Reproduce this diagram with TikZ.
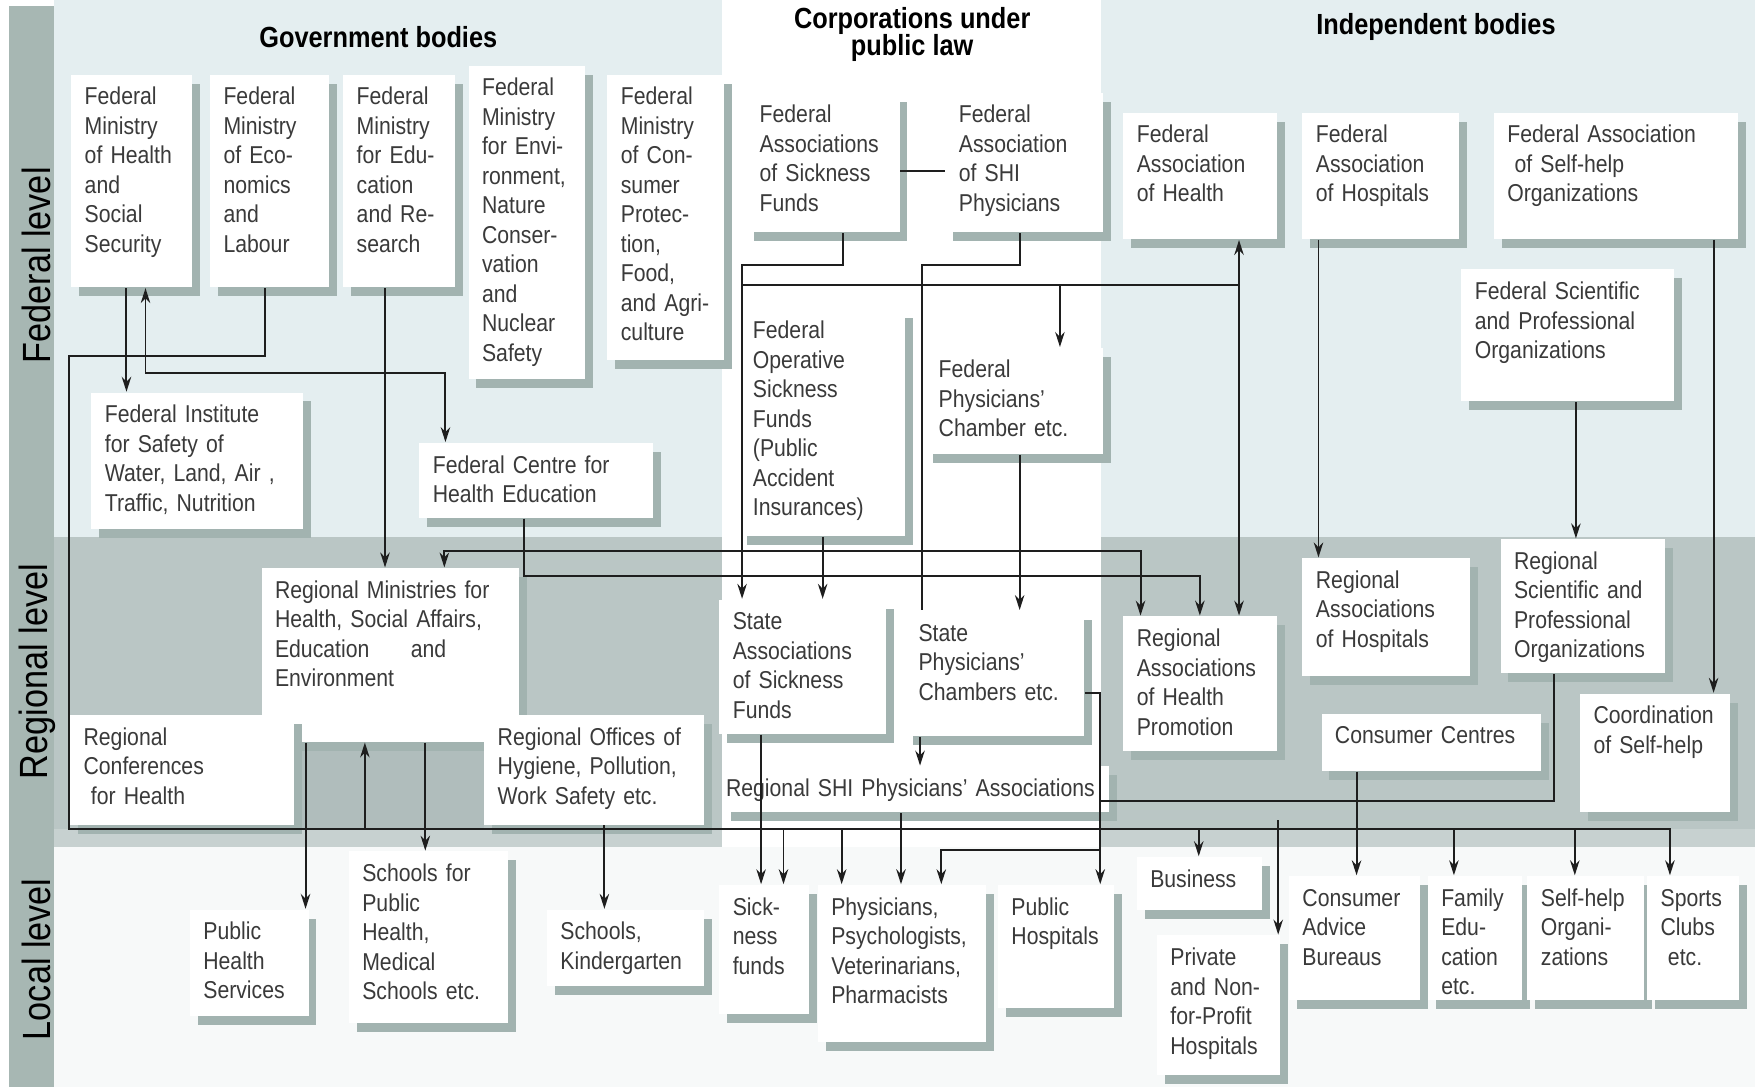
\documentclass[tikz,border=0pt]{standalone}
\usepackage{fontspec}
\setmainfont{Liberation Sans}[FakeStretch=0.87]
\usepackage{tikz}
\usetikzlibrary{shadows,arrows.meta}
\definecolor{txt}{HTML}{3A3A3A}
\definecolor{lnc}{HTML}{1E1E1E}
\definecolor{shd}{HTML}{A2B3B0}
\definecolor{fedbg}{HTML}{E4EEF0}
\definecolor{regbg}{HTML}{BAC6C5}
\definecolor{regdk}{HTML}{B0BDBC}
\definecolor{regst}{HTML}{C7D1D0}
\definecolor{locbg}{HTML}{F7F9F9}
\definecolor{strip}{HTML}{A7B7B3}
\hyphenpenalty=10000
\exhyphenpenalty=10000
\tikzstyle{orgbox}=[fill=white, anchor=north west, align=left, inner xsep=0.12cm, inner ysep=0.1cm, text height=0.17cm, text=txt, font=\fontsize{6.2}{7.5}\selectfont, drop shadow={shadow xshift=0.07cm, shadow yshift=-0.08cm, fill=shd, opacity=1}]
\tikzset{bx/.style 2 args={orgbox, text width=#1cm, text depth=#2cm}}
\tikzstyle{ln}=[draw=lnc, line width=0.5pt]
\tikzstyle{ar}=[->, >={Stealth[length=3.8pt,width=2.4pt]}, draw=lnc, line width=0.5pt]
\tikzstyle{ar2}=[<->, >={Stealth[length=3.8pt,width=2.4pt]}, draw=lnc, line width=0.5pt]
\tikzstyle{hd}=[font=\fontsize{7.4}{8.8}\selectfont\bfseries, text=black, align=center, inner sep=0pt]
\tikzstyle{lv}=[font=\fontsize{10}{12}\selectfont, text=black, rotate=90, inner sep=0pt]

\begin{document}
\begin{tikzpicture}[x=0.1mm, y=-0.1mm]
        \useasboundingbox (0,0) rectangle (1568,971);
        % level bands
        \fill[white] (0,0) rectangle (1568,971);
        \fill[fedbg] (48,0) rectangle (1568,480);
        \fill[regbg] (48,480) rectangle (1568,741);
        \fill[regst] (48,741) rectangle (1568,757);
        \fill[locbg] (48,757) rectangle (1568,971);
        \fill[white] (645,0) rectangle (984,757);
        \fill[regdk] (262,662) rectangle (432,741);
        \fill[strip] (8,5) rectangle (48,971);

        \node[lv] (lfed) at (33,237) {Federal level};
        \node[lv] (lreg) at (33,600) {Regional level};
        \node[lv] (lloc) at (33,857) {Local level};

        \node[hd] (hgov) at (338,33) {Government bodies};
        \node[hd] (hcorp) at (815,31) {Corporations under\\[-2pt]public law};
        \node[hd] (hind) at (1283,24) {Independent bodies};

        % federal level
        \node[bx={.84}{1.53}] (fmh) at (63,66) {Federal\\Ministry\\of Health\\and\\Social\\Security};
        \node[bx={.82}{1.53}] (fme) at (187,66) {Federal\\Ministry\\of Eco-\\nomics\\and\\Labour};
        \node[bx={.76}{1.53}] (fmr) at (306,66) {Federal\\Ministry\\for Edu-\\cation\\and Re-\\search};
        \node[bx={.80}{2.43}] (fmn) at (418,58) {Federal\\Ministry\\for Envi-\\ronment,\\Nature\\Conser-\\vation\\and\\Nuclear\\Safety};
        \node[bx={.80}{2.18}] (fmc) at (542,66) {Federal\\Ministry\\of Con-\\sumer\\Protec-\\tion,\\Food,\\and Agri-\\culture};
        \node[bx={1.13}{.88}] (fas) at (666,82) {Federal\\Associations\\of Sickness\\Funds};
        \node[bx={1.17}{.88}] (fashi) at (844,82) {Federal\\Association\\of SHI\\Physicians};
        \node[bx={1.24}{1.66}] (fosf) at (660,275) {Federal\\Operative\\Sickness\\Funds\\(Public\\Accident\\Insurances)};
        \node[bx={1.35}{.58}] (fpc) at (826,310) {Federal\\Physicians'\\Chamber etc.};
        \node[bx={1.13}{.76}] (fah) at (1003,100) {Federal\\Association\\of Health};
        \node[bx={1.16}{.76}] (fahosp) at (1163,100) {Federal\\Association\\of Hospitals};
        \node[bx={1.94}{.76}] (fash) at (1334,100) {Federal Association\\\hspace*{0.3em}of Self-help\\Organizations};
        \node[bx={1.66}{.81}] (fspo) at (1305,240) {Federal Scientific\\and Professional\\Organizations};
        \node[bx={1.65}{.85}] (fis) at (81,350) {Federal Institute\\for Safety of\\Water, Land, Air ,\\Traffic, Nutrition};
        \node[bx={1.85}{.30}] (fche) at (374,395) {Federal Centre for\\Health Education};

        % regional level
        \node[bx={2.06}{1.18}] (rm) at (233,507) {Regional Ministries for\\Health, Social Affairs,\\Education\hspace{1.7em}and\\Environment};
        \node[bx={1.76}{.61}] (rcf) at (62,638) {Regional\\Conferences\\\hspace*{0.3em}for Health};
        \node[bx={1.72}{.61}] (rof) at (432,638) {Regional Offices of\\Hygiene, Pollution,\\Work Safety etc.};
        \node[bx={1.25}{.83}] (sasf) at (642,535) {State\\Associations\\of Sickness\\Funds};
        \node[bx={1.36}{.75}] (spcb) at (808,545) {State\\Physicians'\\Chambers etc.};
        \node[bx={3.39}{.04}, inner xsep=0.03cm] (rship) at (645,684) {Regional SHI Physicians' Associations};
        \node[bx={1.13}{.83}] (rahp) at (1003,550) {Regional\\Associations\\of Health\\Promotion};
        \node[bx={1.26}{.68}] (rah) at (1163,498) {Regional\\Associations\\of Hospitals};
        \node[bx={1.23}{.83}] (rspo) at (1340,481) {Regional\\Scientific and\\Professional\\Organizations};
        \node[bx={1.72}{.14}] (cc) at (1180,637) {Consumer Centres};
        \node[bx={1.10}{.69}] (cosh) at (1411,619) {Coordination\\of Self-help};

        % local level
        \node[bx={.82}{.58}] (phs) at (169,812) {Public\\Health\\Services};
        \node[bx={1.18}{1.16}] (sph) at (311,760) {Schools for\\Public\\Health,\\Medical\\Schools etc.};
        \node[bx={1.16}{.31}] (sk) at (488,812) {Schools,\\Kindergarten};
        \node[bx={.56}{.78}] (sf) at (642,790) {Sick-\\ness\\funds};
        \node[bx={1.26}{1.03}] (phy) at (730,790) {Physicians,\\Psychologists,\\Veterinarians,\\Pharmacists};
        \node[bx={.80}{.73}] (ph) at (891,790) {Public\\Hospitals};
        \node[bx={.88}{.10}] (busi) at (1015,765) {Business};
        \node[bx={.86}{.88}] (pnh) at (1033,835) {Private\\and Non-\\for-Profit\\Hospitals};
        \node[bx={.93}{.74}] (cab) at (1151,782) {Consumer\\Advice\\Bureaus};
        \node[bx={.60}{.74}] (fe) at (1275,782) {Family\\Edu-\\cation\\etc.};
        \node[bx={.80}{.74}] (sho) at (1364,782) {Self-help\\Organi-\\zations};
        \node[bx={.58}{.74}] (scl) at (1471,782) {Sports\\Clubs\\\hspace*{0.3em}etc.};

        \coordinate (busW) at (62,741);
        \coordinate (busE) at (1492,741);
        \coordinate (jw) at (663,255);
        \coordinate (je) at (1107,255);

        % government bodies
        \draw[ar] (113,0 |- fmh.south) -- (113,0 |- fis.north);
        \draw[ar2] (130,0 |- fmh.south) |- (398,333) -- (398,0 |- fche.north);
        \draw[ar] (237,0 |- fme.south) |- (62,318) -- (busW) -- (busE) -- (1492,0 |- scl.north);
        \draw[ar] (344,0 |- fmr.south) -- (344,0 |- rm.north);
        \draw[ar] (468,0 |- fche.south) |- (1072,515) -- (1072,0 |- rahp.north);
        \draw[ar2] (397,0 |- rm.north) |- (1019,492) -- (1019,0 |- rahp.north);
        \draw[ar] (273,0 |- rm.south) -- (273,0 |- phs.north);
        \draw[ar] (326,741) -- (326,0 |- rm.south);
        \draw[ar] (380,0 |- rm.south) -- (380,0 |- sph.north);
        \draw[ar] (540,0 |- rof.south) -- (540,0 |- sk.north);

        % corporations
        \draw[ln] (fas.east |- 0,153) -- (fashi.west |- 0,153);
        \draw[ar] (753,0 |- fas.south) |- (663,237) -- (663,0 |- sasf.north);
        \draw[ln] (911,0 |- fashi.south) |- (824,237) -- (824,0 |- spcb.north);
        \draw[ln] (jw) -- (je);
        \draw[ar] (947,255) -- (947,0 |- fpc.north);
        \draw[ar2] (1107,0 |- fah.south) -- (1107,0 |- rahp.north);
        \draw[ar] (735,0 |- fosf.south) -- (735,0 |- sasf.north);
        \draw[ar] (911,0 |- fpc.south) -- (911,0 |- spcb.north);
        \draw[ar] (822,0 |- spcb.south) -- (822,0 |- rship.north);
        \draw[ar] (spcb.east |- 0,619) -- (983,619) -- (983,0 |- ph.north);
        \draw[ar] (983,759) -| (841,0 |- phy.north);
        \draw[ar] (680,0 |- sasf.south) -- (680,0 |- sf.north);
        \draw[ar] (700,741) -- (700,0 |- sf.north);
        \draw[ar] (752,741) -- (752,0 |- phy.north);
        \draw[ar] (805,0 |- rship.south) -- (805,0 |- phy.north);

        % independent bodies
        \draw[ar] (1178,0 |- fahosp.south) -- (1178,0 |- rah.north);
        \draw[ar] (1408,0 |- fspo.south) -- (1408,0 |- rspo.north);
        \draw[ar] (1531,0 |- fash.south) -- (1531,0 |- cosh.north);
        \draw[ln] (1388,0 |- rspo.south) |- (983,716);
        \draw[ar] (1212,0 |- cc.south) -- (1212,0 |- cab.north);
        \draw[ar] (1071,741) -- (1071,0 |- busi.north);
        \draw[ar] (1142,733) -- (1142,0 |- pnh.north);
        \draw[ar] (1299,741) -- (1299,0 |- fe.north);
        \draw[ar] (1407,741) -- (1407,0 |- sho.north);
\end{tikzpicture}
\end{document}
